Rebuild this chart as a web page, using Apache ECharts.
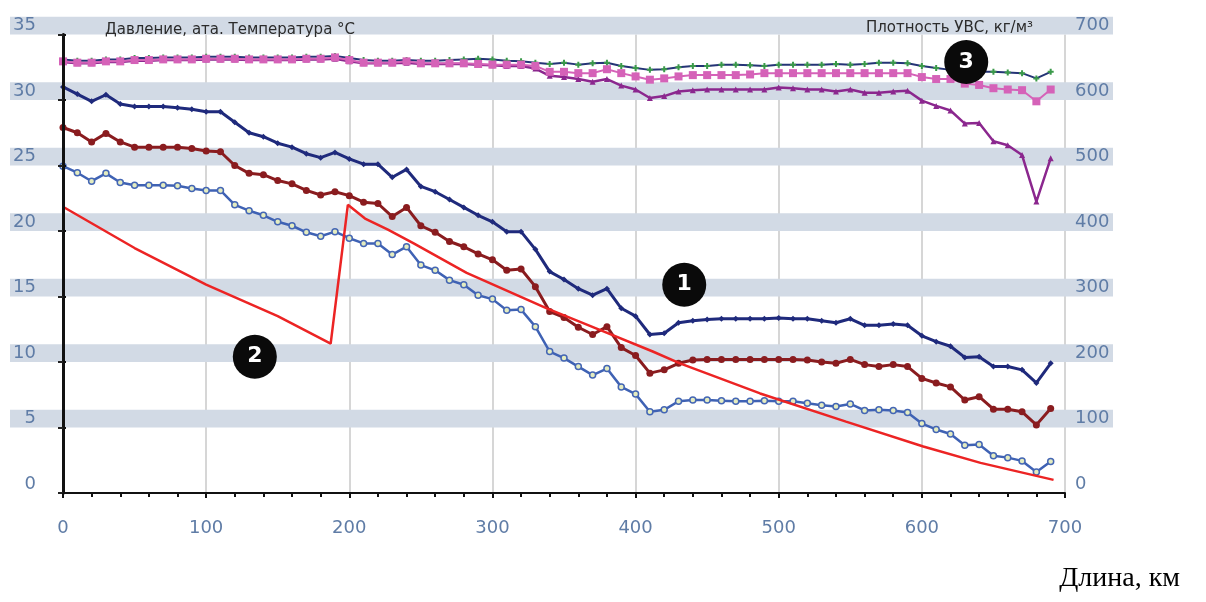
<!DOCTYPE html>
<html>
<head>
<meta charset="utf-8">
<script src="https://cdn.jsdelivr.net/npm/echarts@6/dist/echarts.min.js"></script>
<style>html,body{margin:0;padding:0;background:#fff;}#c{width:1206px;height:602px;}</style>
</head>
<body>
<div id="c"></div>
<script>
// Distance along pipeline, km
const km = [0,10,20,30,40,50,60,70,80,90,100,110,120,130,140,150,160,170,180,190,200,210,220,230,240,250,260,270,280,290,300,310,320,330,340,350,360,370,380,390,400,410,420,430,440,450,460,470,480,490,500,510,520,530,540,550,560,570,580,590,600,610,620,630,640,650,660,670,680,690];

// Left axis (pressure / temperature)
const pressureTop = [31.0,30.45,29.9,30.4,29.7,29.5,29.5,29.5,29.4,29.3,29.1,29.1,28.3,27.5,27.2,26.7,26.4,25.9,25.6,26.0,25.5,25.1,25.1,24.1,24.7,23.4,23.0,22.4,21.8,21.2,20.7,19.95,19.95,18.6,16.9,16.3,15.6,15.1,15.6,14.1,13.5,12.1,12.2,13.0,13.15,13.25,13.3,13.3,13.3,13.3,13.35,13.3,13.3,13.15,13.0,13.3,12.8,12.8,12.9,12.8,12.0,11.55,11.2,10.35,10.4,9.65,9.65,9.4,8.4,9.9];
const pressureMid = [27.9,27.5,26.8,27.45,26.8,26.4,26.4,26.4,26.4,26.3,26.1,26.05,25.0,24.4,24.3,23.85,23.6,23.1,22.75,23.0,22.7,22.2,22.1,21.1,21.8,20.4,19.9,19.2,18.8,18.25,17.8,17.0,17.1,15.75,13.85,13.4,12.65,12.1,12.7,11.1,10.5,9.15,9.4,9.9,10.15,10.2,10.2,10.2,10.2,10.2,10.2,10.2,10.15,10.0,9.9,10.2,9.8,9.65,9.8,9.65,8.75,8.4,8.1,7.1,7.35,6.4,6.4,6.2,5.2,6.45];
const tempBlue = [24.95,24.45,23.8,24.4,23.7,23.5,23.5,23.5,23.45,23.25,23.1,23.1,22.0,21.55,21.2,20.7,20.4,19.9,19.6,19.95,19.45,19.05,19.05,18.2,18.8,17.4,17.0,16.25,15.9,15.1,14.8,13.95,14.0,12.7,10.8,10.3,9.65,9.0,9.5,8.1,7.55,6.2,6.35,7.0,7.1,7.1,7.05,7.0,7.0,7.05,7.0,7.0,6.85,6.7,6.6,6.8,6.3,6.35,6.3,6.15,5.3,4.85,4.5,3.65,3.7,2.85,2.7,2.45,1.6,2.4];
const redKm = [0,50,100,150,187,199,211,227,245,282,338,375,412,431,487,547,601,641,692];
const redY  = [21.85,18.7,15.9,13.5,11.4,22.0,20.95,20.1,19.05,16.8,14.1,12.45,10.8,9.9,7.6,5.45,3.55,2.3,1.0];

// Right axis (density, kg/m3)
const densityPink = [659,657,657,659,659,661,661,662,662,662,663,663,663,662,662,662,662,663,663,665,661,657,657,657,659,656,656,656,656,655,654,654,654,652,643,643,641,641,647,641,636,631,633,636,638,638,638,638,639,641,641,641,641,641,641,641,641,641,641,641,635,632,632,625,623,618,616,615,598,616];
const densityPurple = [658,656,656,658,658,660,660,661,661,661,662,662,662,661,661,661,661,662,662,663,659,656,656,656,657,655,655,655,655,654,653,652,652,648,637,635,632,628,632,622,616,603,606,613,615,616,616,616,616,616,619,618,616,616,613,616,611,611,613,614,599,591,584,564,565,537,531,516,445,511];
const densityGreen = [662,660,660,662,662,664,664,665,665,665,666,666,666,665,665,665,665,666,666,667,664,661,660,660,661,660,660,661,662,663,662,660,659,657,655,657,654,656,657,652,649,646,647,650,652,652,654,654,653,652,654,654,654,654,655,654,655,657,657,656,652,649,646,644,643,643,642,641,633,643];

// Numbered callouts (km, left-axis value)
const calloutKm = [434, 134, 631];
const calloutY = [15.9, 10.4, 32.9];
const calloutText = ['1', '2', '3'];

// Horizontal shaded bands start values (left axis)
const bandStarts = [5, 10, 15, 20, 25, 30, 35];

const BAND_H = 1.35;
const zip = (xs, ys) => xs.map((x, i) => [x, ys[i]]);
const labelColor = '#5f7ca6';
const font = 'DejaVu Sans';

const chart = echarts.init(document.getElementById('c'), null, {renderer: 'canvas'});
chart.setOption({
  animation: false,
  backgroundColor: '#fff',
  title: [
    {text: 'Давление, ата. Температура °C', left: 100, top: 18,
     textStyle: {fontFamily: font, fontSize: 15, fontWeight: 'normal', color: '#2b2b2b'}},
    {text: 'Плотность УВС, кг/м³', right: 168, top: 16,
     textStyle: {fontFamily: font, fontSize: 15, fontWeight: 'normal', color: '#2b2b2b'}},
    {text: 'Длина, км', right: 21, top: 560,
     textStyle: {fontFamily: 'Liberation Serif', fontSize: 28, fontWeight: 'normal', color: '#000'}}
  ],
  grid: [
    {left: 63, right: 141, top: 34.5, bottom: 109},
    {left: 10, right: 93, top: 8.3, bottom: 109}
  ],
  xAxis: [
    {type: 'value', gridIndex: 0, min: 0, max: 700, interval: 100, z: 5,
     axisLine: {show: true, onZero: false, lineStyle: {color: '#111', width: 2}},
     axisTick: {show: true, length: 5, lineStyle: {color: '#111', width: 2}},
     minorTick: {show: true, splitNumber: 5, length: 4, lineStyle: {color: '#111', width: 2}},
     axisLabel: {margin: 26, fontFamily: font, fontSize: 18, color: labelColor},
     splitLine: {show: false}},
    {type: 'value', gridIndex: 0, min: 0, max: 700, interval: 100, z: 0,
     axisLine: {show: false}, axisTick: {show: false}, axisLabel: {show: false},
     splitLine: {show: true, lineStyle: {color: '#c9c9c9', width: 1.5}}},
    {type: 'value', gridIndex: 1, min: 0, max: 1, show: false}
  ],
  yAxis: [
    {type: 'value', gridIndex: 0, position: 'left', min: 0, max: 35, interval: 5, z: 5,
     axisLine: {show: true, lineStyle: {color: '#222', width: 2}},
     axisTick: {show: true, length: 5, lineStyle: {color: '#222', width: 2}},
     axisLabel: {margin: 27, fontFamily: font, fontSize: 18, color: labelColor, verticalAlign: 'bottom', lineHeight: 18},
     splitLine: {show: false}},
    {type: 'value', gridIndex: 0, position: 'right', min: 0, max: 700, interval: 100, z: 5,
     axisLine: {show: true, lineStyle: {color: '#111', width: 3}},
     axisTick: {show: true, length: 3, lineStyle: {color: '#111', width: 2}},
     axisLabel: {margin: 10, fontFamily: font, fontSize: 18, color: labelColor, verticalAlign: 'bottom', lineHeight: 18},
     splitLine: {show: false}},
    {type: 'value', gridIndex: 1, min: 0, max: 37, show: false}
  ],
  series: [
    {type: 'line', xAxisIndex: 2, yAxisIndex: 2, z: 1, silent: true,
     data: [[0, 0]], symbol: 'none', lineStyle: {opacity: 0},
     markArea: {silent: true, itemStyle: {color: '#d2dae5', opacity: 1},
       data: bandStarts.map(v => [{yAxis: v}, {yAxis: v + BAND_H}])}},
    {name: 'pressureTop', type: 'line', z: 3, data: zip(km, pressureTop),
     lineStyle: {color: '#1f2a7c', width: 3}, symbol: 'diamond', symbolSize: 6,
     itemStyle: {color: '#1f2a7c'}},
    {name: 'pressureMid', type: 'line', z: 3, data: zip(km, pressureMid),
     lineStyle: {color: '#8a1c1f', width: 3}, symbol: 'circle', symbolSize: 7,
     itemStyle: {color: '#8a1c1f'}},
    {name: 'tempBlue', type: 'line', z: 3, data: zip(km, tempBlue),
     lineStyle: {color: '#3f62b4', width: 2.5}, symbol: 'circle', symbolSize: 6,
     itemStyle: {color: '#e4ecc0', borderColor: '#4466b4', borderWidth: 1.5}},
    {name: 'red', type: 'line', z: 4, data: zip(redKm, redY), showSymbol: false, symbol: 'none',
     lineStyle: {color: '#ec2424', width: 2.5}},
    {name: 'densityGreen', type: 'line', yAxisIndex: 1, z: 3, data: zip(km, densityGreen),
     lineStyle: {color: '#253476', width: 2}, symbol: 'path://M2,0h2v2h2v2h-2v2h-2v-2h-2v-2h2z', symbolSize: 6,
     itemStyle: {color: '#3b9a4a'}},
    {name: 'densityPurple', type: 'line', yAxisIndex: 1, z: 3, data: zip(km, densityPurple),
     lineStyle: {color: '#8b278e', width: 2.5}, symbol: 'triangle', symbolSize: 6,
     itemStyle: {color: '#8b278e'}},
    {name: 'densityPink', type: 'line', yAxisIndex: 1, z: 4, data: zip(km, densityPink),
     lineStyle: {color: '#d562b8', width: 2}, symbol: 'rect', symbolSize: 8,
     itemStyle: {color: '#d562b8'}},
    {name: 'callouts', type: 'scatter', z: 6, data: zip(calloutKm, calloutY).map((p, i) => ({value: p, label: {formatter: calloutText[i]}})),
     symbol: 'circle', symbolSize: 44, itemStyle: {color: '#0a0a0a', opacity: 1},
     label: {show: true, position: 'inside', color: '#fff', fontFamily: font, fontWeight: 'bold', fontSize: 22}}
  ]
});
</script>
</body>
</html>
